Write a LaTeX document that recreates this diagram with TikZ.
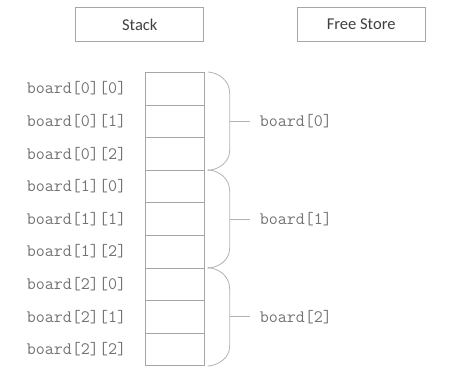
\documentclass[tikz,border=0pt]{standalone}
\usepackage{fontspec}
\usepackage{xcolor}
\usepackage{tikz}
\usetikzlibrary{positioning}
\newfontfamily\titlefont{Carlito}

\begin{document}
\begin{tikzpicture}[x=1pt, y=-1pt,
    titlebox/.style={draw=black!35, line width=0.8pt, minimum width=128pt, minimum height=34pt, font=\titlefont\fontsize{16.5}{18}\selectfont, text=black!75},
    cell/.style={draw=black!35, line width=0.8pt, minimum width=58.3pt, minimum height=32.6pt, inner sep=0pt},
    lbl/.style={inner sep=0pt, font=\ttfamily\fontsize{17.5}{20}\selectfont, text=black!55},
    brace/.style={draw=black!30, line width=0.8pt}
]
    \useasboundingbox (0,0) rectangle (456,375);

    % --- Headers ---
    \node[titlebox] (stack) at (139.8, 24.5) {Stack};
    \node[titlebox] (store) at (361.2, 24.5) {Free Store};

    % --- Stack cells and their labels ---
    \foreach \i in {0,1,2} {
        \foreach \j in {0,1,2} {
            \node[cell] (c\i\j) at (174.8, {88.6+32.6*(3*\i+\j)}) {};
            \node[lbl, left=19pt of c\i\j] (l\i\j) {board[\i][\j]};
        }
    }

    % --- Braces for the rows ---
    \foreach \i in {0,1,2} {
        \coordinate (top\i) at ([xshift=3.3pt]c\i0.north east);
        \coordinate (bot\i) at ([xshift=3.3pt]c\i2.south east);
        \coordinate (mid\i) at ([xshift=25.3pt]c\i1.east);
        \draw[brace] (top\i) to[out=-5, in=90] ([xshift=22pt, yshift=-21pt]top\i)
            -- ([xshift=22pt, yshift=20pt]bot\i) to[out=-90, in=5] (bot\i);
        \node[lbl, right=30pt of mid\i] (row\i) {board[\i]};
        \draw[brace] (mid\i) -- ([xshift=-10pt]row\i.west);
    }

\end{tikzpicture}
\end{document}
